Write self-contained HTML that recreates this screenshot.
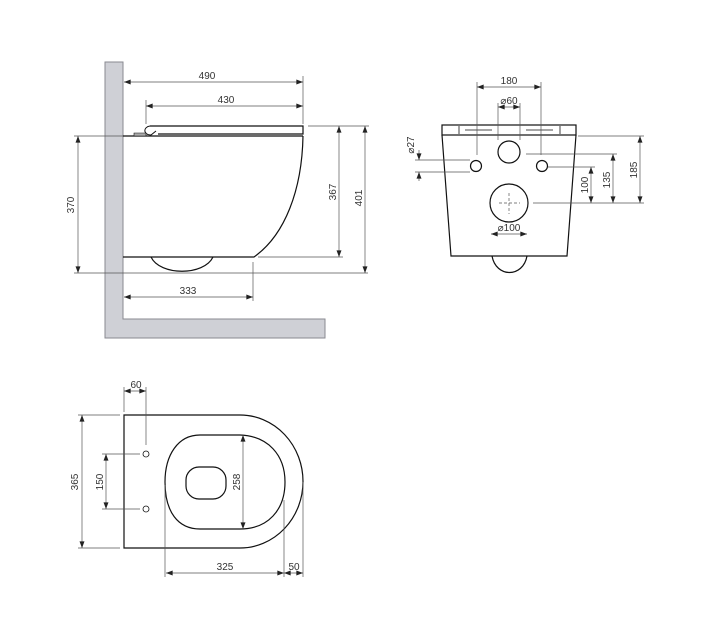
<!DOCTYPE html>
<html><head><meta charset="utf-8"><style>html,body{margin:0;padding:0;background:#fff}svg{display:block}</style></head><body>
<svg width="703" height="630" viewBox="0 0 703 630" xmlns="http://www.w3.org/2000/svg" font-family="Liberation Sans, sans-serif" font-size="10" fill="none">
<defs>
<marker id="a" viewBox="0 0 8 6" refX="8" refY="3" markerWidth="7" markerHeight="5" orient="auto-start-reverse" markerUnits="userSpaceOnUse"><path d="M0,0L8,3L0,6z" fill="#222"/></marker>
</defs>
<!-- wall -->
<path d="M105,62H123V319H325V338H105Z" fill="#cfd0d6" stroke="#8a8a90" stroke-width="1"/>
<g stroke="#555" stroke-width="0.7">
<line x1="124" y1="82" x2="303" y2="82" marker-start="url(#a)" marker-end="url(#a)"/>
<line x1="146" y1="106" x2="303" y2="106" marker-start="url(#a)" marker-end="url(#a)"/>
<line x1="303" y1="76" x2="303" y2="124"/>
<line x1="146" y1="100" x2="146" y2="124"/>
<line x1="78" y1="136" x2="78" y2="273" marker-start="url(#a)" marker-end="url(#a)"/>
<line x1="74" y1="136" x2="123" y2="136"/>
<line x1="74" y1="273" x2="368" y2="273"/>
<line x1="339" y1="126" x2="339" y2="257" marker-start="url(#a)" marker-end="url(#a)"/>
<line x1="365" y1="126" x2="365" y2="273" marker-start="url(#a)" marker-end="url(#a)"/>
<line x1="308" y1="126" x2="369" y2="126"/>
<line x1="258" y1="257" x2="343" y2="257"/>
<line x1="124" y1="297" x2="253" y2="297" marker-start="url(#a)" marker-end="url(#a)"/>
<line x1="253" y1="262" x2="253" y2="301"/>
</g>
<g stroke="#111" stroke-width="1.2">
<path d="M123,136H303"/>
<path d="M150,126H303V134H158"/>
<path d="M150,126C143,127 143,135 151,135L156,131" stroke-width="1"/>
<path d="M134,133H146V136H134Z" fill="#aaa" stroke-width="0.6"/>
<path d="M303,136C302,190 285,235 254,257H123"/>
<path d="M151,257C160,276 204,276 213,257"/>
</g>
<g fill="#333" stroke="none">
<text x="207" y="79" text-anchor="middle">490</text>
<text x="226" y="103" text-anchor="middle">430</text>
<text x="188" y="294" text-anchor="middle">333</text>
<text transform="translate(74,205) rotate(-90)" text-anchor="middle">370</text>
<text transform="translate(336,192) rotate(-90)" text-anchor="middle">367</text>
<text transform="translate(362,198) rotate(-90)" text-anchor="middle">401</text>
</g>
<!-- front view -->
<g stroke="#111" stroke-width="1.2">
<rect x="442" y="125" width="134" height="10"/>
<path d="M442,135L451,256H567L576,135" />
<path d="M492,256C496,278 523,278 527,256"/>
<path d="M459,126V134M560,126V134M465,130H492M526,130H553" stroke-width="0.8"/>
<circle cx="476" cy="166" r="5.5"/>
<circle cx="542" cy="166" r="5.5"/>
<circle cx="509" cy="152" r="11"/>
<circle cx="509" cy="203" r="19"/>
</g>
<g stroke="#555" stroke-width="0.7">
<path d="M499,203H520M509,193V214" stroke-dasharray="3,2"/>
<line x1="477" y1="87" x2="541" y2="87" marker-start="url(#a)" marker-end="url(#a)"/>
<line x1="477" y1="82" x2="477" y2="155"/><line x1="541" y1="82" x2="541" y2="155"/>
<line x1="498" y1="107" x2="520" y2="107" marker-start="url(#a)" marker-end="url(#a)"/>
<line x1="498" y1="103" x2="498" y2="140"/><line x1="520" y1="103" x2="520" y2="140"/>
<line x1="419" y1="150" x2="419" y2="160" marker-end="url(#a)"/>
<line x1="419" y1="181" x2="419" y2="172" marker-end="url(#a)"/>
<line x1="415" y1="160" x2="470" y2="160"/><line x1="415" y1="172" x2="470" y2="172"/>
<line x1="591" y1="167" x2="591" y2="203" marker-start="url(#a)" marker-end="url(#a)"/>
<line x1="613" y1="154" x2="613" y2="203" marker-start="url(#a)" marker-end="url(#a)"/>
<line x1="640" y1="136" x2="640" y2="203" marker-start="url(#a)" marker-end="url(#a)"/>
<line x1="578" y1="136" x2="644" y2="136"/><line x1="526" y1="154" x2="617" y2="154"/>
<line x1="548" y1="167" x2="595" y2="167"/><line x1="533" y1="203" x2="644" y2="203"/>
<line x1="491" y1="234" x2="527" y2="234" marker-start="url(#a)" marker-end="url(#a)"/>
</g>
<g fill="#333" stroke="none">
<text x="509" y="84" text-anchor="middle">180</text>
<text x="509" y="104" text-anchor="middle">⌀60</text>
<text x="509" y="231" text-anchor="middle">⌀100</text>
<text transform="translate(414,145) rotate(-90)" text-anchor="middle">⌀27</text>
<text transform="translate(588,185) rotate(-90)" text-anchor="middle">100</text>
<text transform="translate(610,180) rotate(-90)" text-anchor="middle">135</text>
<text transform="translate(637,170) rotate(-90)" text-anchor="middle">185</text>
</g>
<!-- top view -->
<g stroke="#111" stroke-width="1.2">
<path d="M124,415H240A63,66.5 0 0 1 240,548H124Z"/>
<path d="M200,435H240C268,436 285,455 285,482C285,510 268,529 240,529H200C178,529 165,512 165,482C165,455 178,435 200,435Z"/>
<rect x="186" y="467" width="40" height="32" rx="13"/>
<circle cx="146" cy="454" r="3" stroke-width="0.8"/>
<circle cx="146" cy="509" r="3" stroke-width="0.8"/>
</g>
<g stroke="#555" stroke-width="0.7">
<line x1="124" y1="391" x2="146" y2="391" marker-start="url(#a)" marker-end="url(#a)"/>
<line x1="124" y1="387" x2="124" y2="412"/><line x1="146" y1="387" x2="146" y2="445"/>
<line x1="82" y1="415" x2="82" y2="548" marker-start="url(#a)" marker-end="url(#a)"/>
<line x1="78" y1="415" x2="120" y2="415"/><line x1="78" y1="548" x2="120" y2="548"/>
<line x1="106" y1="454" x2="106" y2="509" marker-start="url(#a)" marker-end="url(#a)"/>
<line x1="102" y1="454" x2="140" y2="454"/><line x1="102" y1="509" x2="140" y2="509"/>
<line x1="243" y1="435" x2="243" y2="529" marker-start="url(#a)" marker-end="url(#a)"/>
<line x1="166" y1="573" x2="284" y2="573" marker-start="url(#a)" marker-end="url(#a)"/>
<line x1="284" y1="573" x2="303" y2="573" marker-start="url(#a)" marker-end="url(#a)"/>
<line x1="165" y1="485" x2="165" y2="577"/><line x1="284" y1="500" x2="284" y2="577"/><line x1="303" y1="482" x2="303" y2="577"/>
</g>
<g fill="#333" stroke="none">
<text x="136" y="388" text-anchor="middle">60</text>
<text x="225" y="570" text-anchor="middle">325</text>
<text x="294" y="570" text-anchor="middle">50</text>
<text transform="translate(78,482) rotate(-90)" text-anchor="middle">365</text>
<text transform="translate(103,482) rotate(-90)" text-anchor="middle">150</text>
<text transform="translate(240,482) rotate(-90)" text-anchor="middle">258</text>
</g>
</svg>
</body></html>
